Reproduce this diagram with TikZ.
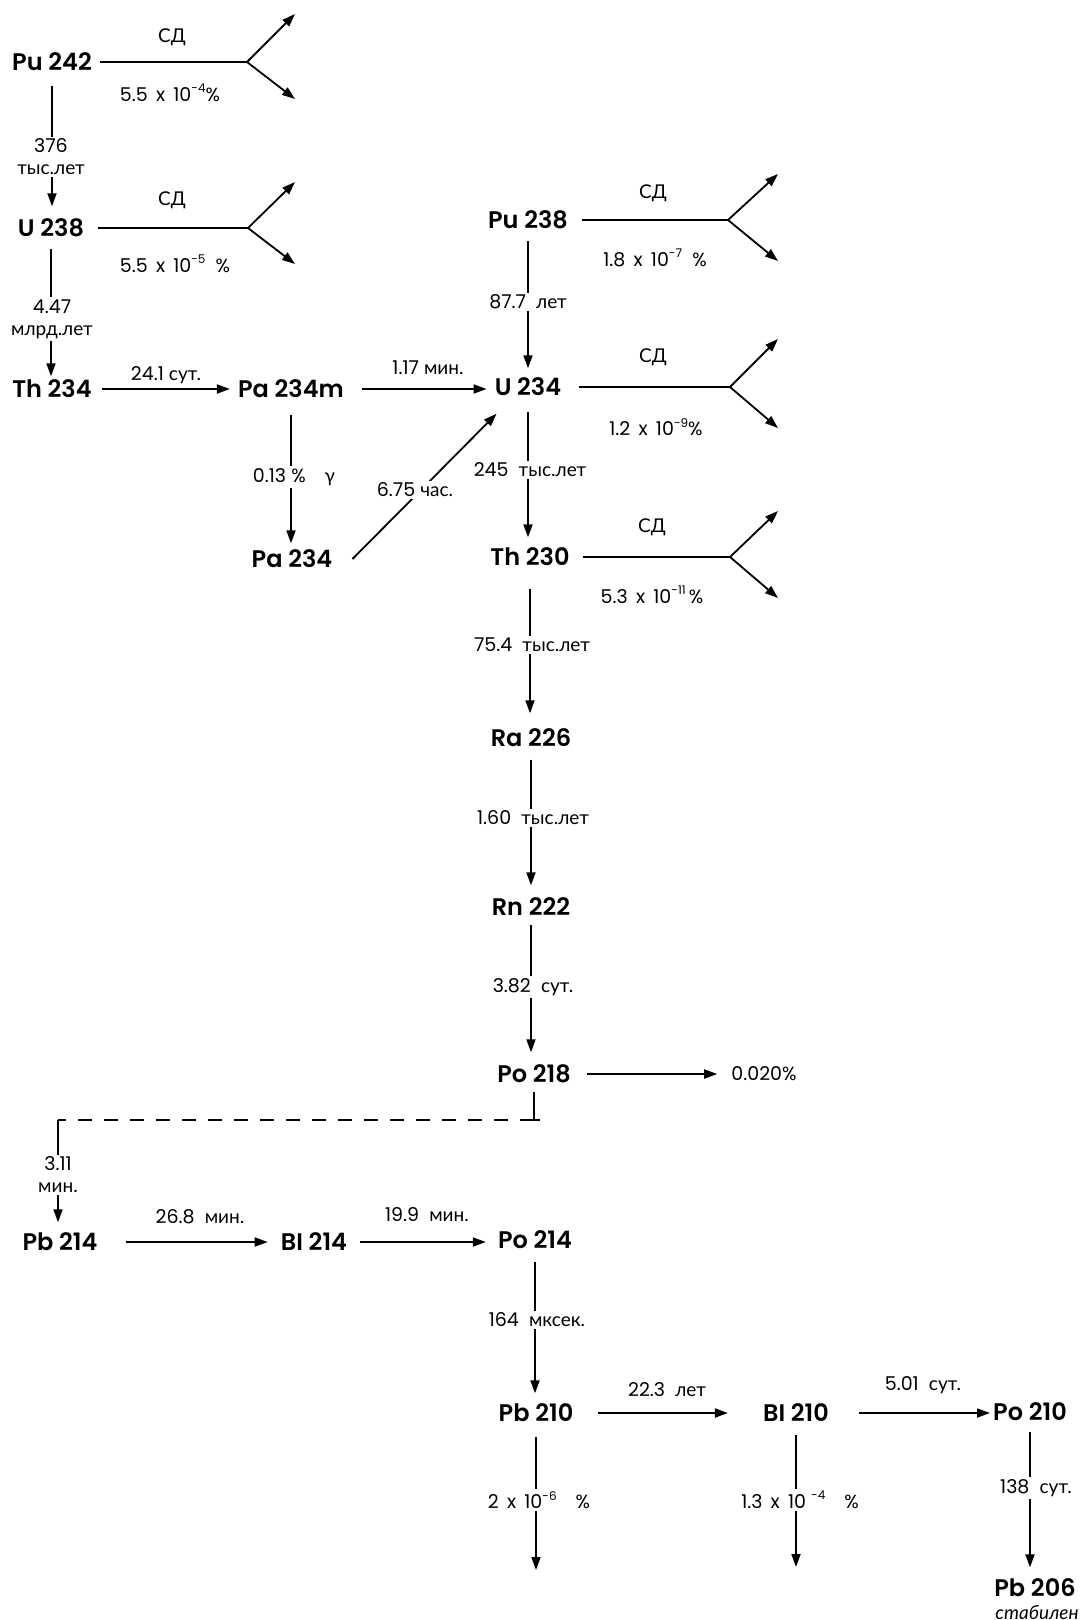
\documentclass[tikz,border=0pt]{standalone}
\usepackage{fontspec}
\setmainfont{Poppins}
\newfontfamily\cyf{Lato}
\newfontfamily\nucf{Poppins SemiBold}
\usetikzlibrary{arrows.meta}
\newcommand\cy[1]{{\cyf #1}}
\newcommand\spw[1]{\raisebox{8.5pt}{\fontsize{12}{12}\selectfont #1}}
\begin{document}
\begin{tikzpicture}[x=1pt,y=-1pt,
  nuc/.style={font=\fontsize{24}{24}\selectfont\nucf, inner sep=0pt, text height=17pt, text depth=0pt},
  lab/.style={font=\fontsize{19}{22}\selectfont, inner sep=2pt, align=center},
  onl/.style={lab, fill=white},
  conn/.style={line width=1.8pt},
  arr/.style={conn, -{Triangle[length=13pt,width=9pt]}},
]
\fill[white] (0,0) rectangle (1086,1620);
\path[use as bounding box] (0,0) rectangle (1086,1620);

% nuclides
\node[nuc] (pu242) at (52,62) {Pu 242};
\node[nuc] (u238) at (51,228) {U 238};
\node[nuc] (th234) at (52,389) {Th 234};
\node[nuc] (pa234m) at (291,389) {Pa 234m};
\node[nuc] (pa234) at (292,559) {Pa 234};
\node[nuc] (pu238) at (528,220) {Pu 238};
\node[nuc] (u234) at (528,387) {U 234};
\node[nuc] (th230) at (530,557) {Th 230};
\node[nuc] (ra226) at (531,738) {Ra 226};
\node[nuc] (rn222) at (531,907) {Rn 222};
\node[nuc] (po218) at (534,1074) {Po 218};
\node[nuc] (pb214) at (60,1242) {Pb 214};
\node[nuc] (bi214) at (314,1242) {BI 214};
\node[nuc] (po214) at (535,1240) {Po 214};
\node[nuc] (pb210) at (536,1413) {Pb 210};
\node[nuc] (bi210) at (796,1413) {BI 210};
\node[nuc] (po210) at (1030,1412) {Po 210};
\node[nuc] (pb206) at (1035,1588) {Pb 206};
\node[lab, font=\fontsize{19}{19}\selectfont\cyf\itshape, inner sep=0pt, anchor=base] (stab) at (1037,1619) {стабилен};
\node[lab] (pct) at (764,1074) {0.020\%};

% spontaneous fission branches
\coordinate (b1) at (247,62);  \coordinate (b1u) at (295,14);  \coordinate (b1d) at (295,99);
\coordinate (b2) at (248,228); \coordinate (b2u) at (295,182); \coordinate (b2d) at (295,264);
\coordinate (b3) at (728,220); \coordinate (b3u) at (778,174); \coordinate (b3d) at (778,261);
\coordinate (b4) at (730,387); \coordinate (b4u) at (778,339); \coordinate (b4d) at (778,428);
\coordinate (b5) at (730,557); \coordinate (b5u) at (778,511); \coordinate (b5d) at (778,598);
\draw[conn, shorten <=8pt] (pu242.east) -- (b1);
\draw[conn, shorten <=14pt] (u238.east) -- (b2);
\draw[conn, shorten <=14pt] (pu238.east) -- (b3);
\draw[conn, shorten <=18pt] (u234.east) -- (b4);
\draw[conn, shorten <=13pt] (th230.east) -- (b5);
\foreach \b in {b1,b2,b3,b4,b5}{
  \draw[arr] (\b) -- (\b u);
  \draw[arr] (\b) -- (\b d);
}
\node[lab] (sd1) at (172,37) {\cy{СД}};
\node[lab] (sd2) at (172,200) {\cy{СД}};
\node[lab] (sd3) at (653,193) {\cy{СД}};
\node[lab] (sd4) at (653,357) {\cy{СД}};
\node[lab] (sd5) at (652,527) {\cy{СД}};
\node[lab] (f1) at (170,93) {5.5\, x\, 10\spw{-4}\%};
\node[lab] (f2) at (175,264) {5.5\, x\, 10\spw{-5}\ \ \%};
\node[lab] (f3) at (655,258) {1.8\, x\, 10\spw{-7}\ \ \%};
\node[lab] (f4) at (656,427) {1.2\, x\, 10\spw{-9}\%};
\node[lab] (f5) at (652,595) {5.3\, x\, 10\spw{-11}\,\%};

% horizontal decays
\draw[arr, shorten <=10pt, shorten >=8pt] (th234.east) -- (pa234m.west);
\draw[arr, shorten <=18pt, shorten >=8pt] (pa234m.east) -- (pa234m.east -| u234.west);
\draw[arr, shorten <=16pt, shorten >=12pt] (po218.east) -- (pct.west);
\draw[arr, shorten <=28pt, shorten >=13pt] (pb214.east) -- (bi214.west);
\draw[arr, shorten <=13pt, shorten >=12pt] (bi214.east) -- (bi214.east -| po214.west);
\draw[arr, shorten <=25pt, shorten >=35pt] (pb210.east) -- (bi210.west);
\draw[arr, shorten <=30pt, shorten >=3pt] (bi210.east) -- (bi210.east -| po210.west);
\node[lab] (t1) at (166,375) {24.1 \cy{сут.}};
\node[lab] (t2) at (428,368) {1.17 \cy{мин.}};
\node[lab] (t3) at (200,1217) {26.8\ \ \cy{мин.}};
\node[lab] (t4) at (427,1215) {19.9\ \ \cy{мин.}};
\node[lab] (t5) at (667,1390) {22.3\ \ \cy{лет}};
\node[lab] (t6) at (923,1385) {5.01\ \ \cy{сут.}};

% diagonal
\draw[arr] ([xshift=20pt]pa234.east) -- ([xshift=2pt,yshift=-18pt]u234.south west);
\node[onl] (t7) at (415,490) {6.75 \cy{час.}};

% vertical decays
\draw[arr, shorten <=15pt, shorten >=13pt] (pu242.south) -- (pu242.south |- u238.north);
\draw[arr, shorten <=12pt, shorten >=4pt] (u238.south) -- (u238.south |- th234.north);
\draw[arr, shorten <=17pt, shorten >=7pt] (pa234m.south) -- (pa234m.south |- pa234.north);
\draw[arr, shorten <=12pt, shorten >=10pt] (pu238.south) -- (pu238.south |- u234.north);
\draw[arr, shorten <=16pt, shorten >=11pt] (u234.south) -- (u234.south |- th230.north);
\draw[arr, shorten <=23pt, shorten >=16pt] (th230.south) -- (th230.south |- ra226.north);
\draw[arr, shorten <=13pt, shorten >=13pt] (ra226.south) -- (ra226.south |- rn222.north);
\draw[arr, shorten <=9pt, shorten >=13pt] (rn222.south) -- (rn222.south |- po218.north);
\draw[arr, shorten <=13pt, shorten >=11pt] (po214.south) -- (po214.south |- pb210.north);
\draw[arr, shorten <=11pt, shorten >=12pt] (po210.south) -- (po210.south |- pb206.north);
\coordinate (pbend) at (537,1570);
\coordinate (biend) at (795,1567);
\draw[arr, shorten <=15pt] (pb210.south) -- (pb210.south |- pbend);
\draw[arr, shorten <=13pt] (bi210.south) -- (bi210.south |- biend);

% dashed link Po 218 -> Pb 214
\coordinate (dR) at (534,1120);
\coordinate (dL) at (58,1120);
\draw[conn, shorten <=9pt] (po218.south) -- (dR);
\draw[conn] ([xshift=-7pt]dR) -- ([xshift=6pt]dR);
\draw[conn, dash pattern=on 14pt off 12pt] (dR) -- (dL);
\draw[arr, shorten >=11pt] (dL) -- (dL |- pb214.north);

% labels on vertical lines
\node[onl] (v1) at (51,157) {376\\\cy{тыс.лет}};
\node[onl] (v2) at (52,319) {4.47\\\cy{млрд.лет}};
\node[onl] (v3) at (58,1175) {3.11\\\cy{мин.}};
\node[onl] (v4) at (294,477) {0.13 \%\quad\cy{γ}};
\node[onl] (v5) at (528,302) {87.7\ \ \cy{лет}};
\node[onl] (v6) at (530,470) {245\ \ \cy{тыс.лет}};
\node[onl] (v7) at (532,645) {75.4\ \ \cy{тыс.лет}};
\node[onl] (v8) at (533,818) {1.60\ \ \cy{тыс.лет}};
\node[onl] (v9) at (533,987) {3.82\ \ \cy{сут.}};
\node[onl] (v10) at (537,1320) {164\ \ \cy{мксек.}};
\node[onl] (v11) at (539,1500) {2\, x\, 10\spw{-6}\quad\%};
\node[onl] (v12) at (800,1500) {1.3\, x\, 10\ \spw{-4}\quad\%};
\node[onl] (v13) at (1036,1488) {138\ \ \cy{сут.}};
\end{tikzpicture}
\end{document}
